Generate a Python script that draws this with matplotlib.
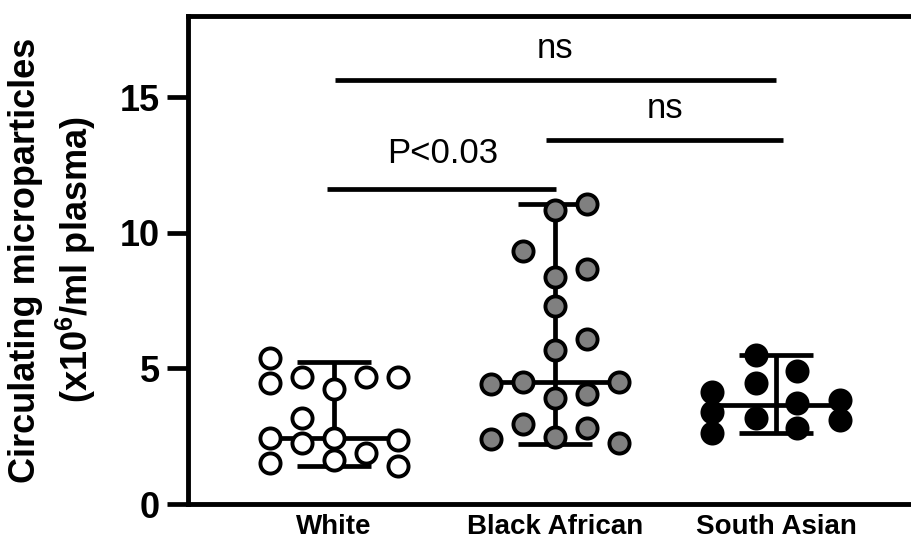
import matplotlib
matplotlib.use("Agg")
import matplotlib.pyplot as plt

plt.rcParams['font.family'] = ['Liberation Sans', 'DejaVu Sans']
plt.rcParams['mathtext.fontset'] = 'custom'
plt.rcParams['mathtext.rm'] = 'Liberation Sans'
plt.rcParams['mathtext.bf'] = 'Liberation Sans:bold'

# groups
groups = ['White', 'Black African', 'South Asian']
fills = ['white', 'grey', 'black']

# values (x10^6/ml plasma)
white_vals = [5.37, 4.45, 4.69, 4.26, 4.69, 4.69, 3.16, 2.42, 2.26, 2.42, 2.36, 1.52, 1.62, 1.89, 1.40]
white_offs = [-0.29, -0.29, -0.145, 0, 0.145, 0.29, -0.145, -0.29, -0.145, 0, 0.29, -0.29, 0, 0.145, 0.29]

black_vals = [10.84, 11.06, 9.33, 8.38, 8.65, 7.30, 6.08, 5.68, 4.42, 4.51, 4.51, 3.90, 4.04, 2.94, 2.79, 2.38, 2.48, 2.24]
black_offs = [0, 0.145, -0.145, 0, 0.145, 0, 0.145, 0, -0.29, -0.145, 0.29, 0, 0.145, -0.145, 0.145, -0.29, 0, 0.29]

asian_vals = [5.49, 4.91, 4.14, 4.45, 3.40, 3.73, 3.83, 3.19, 2.63, 2.79, 3.10]
asian_offs = [-0.09, 0.095, -0.29, -0.09, -0.29, 0.095, 0.29, -0.09, -0.29, 0.095, 0.29]

# median and range bars
medians = [2.44, 4.51, 3.65]
lows = [1.40, 2.20, 2.63]
highs = [5.25, 11.05, 5.49]

# comparisons: (x1, x2, line y, label, label x, label y)
comparisons = [
    (-0.03, 1.005, 11.61, 'P<0.03', 0.49, 12.94),
    (0.96, 2.03, 13.42, 'ns', 1.50, 14.60),
    (0.005, 2.0, 15.63, 'ns', 1.0, 16.80),
]

fig = plt.figure(figsize=(9.11, 5.47), dpi=100)
ax = fig.add_axes([188 / 911, 43 / 547, 1 - 188 / 911, 488 / 547])

all_vals = [white_vals, black_vals, asian_vals]
all_offs = [white_offs, black_offs, asian_offs]

for i in range(len(groups)):
    # median line and range whiskers
    ax.plot([i - 0.28, i + 0.28], [medians[i], medians[i]], color='black', lw=3.4, zorder=2, solid_capstyle='butt')
    ax.plot([i, i], [lows[i], highs[i]], color='black', lw=3.4, zorder=2, solid_capstyle='butt')
    for y in (lows[i], highs[i]):
        ax.plot([i - 0.167, i + 0.167], [y, y], color='black', lw=3.4, zorder=2, solid_capstyle='butt')
    xs = [i + o for o in all_offs[i]]
    ax.plot(xs, all_vals[i], 'o', ms=14.5, mfc=fills[i], mec='black', mew=2.8, zorder=3)

for x1, x2, y, txt, tx, ty in comparisons:
    ax.plot([x1, x2], [y, y], color='black', lw=3.4, solid_capstyle='butt', clip_on=False)
    ax.text(tx, ty, txt, ha='center', va='center', fontsize=25)

ax.set_xlim(-0.661, 2.611)
ax.set_ylim(0, 18)
ax.set_yticks([0, 5, 10, 15])
ax.set_xticks(range(len(groups)))
ax.set_xticklabels(groups, fontsize=20, fontweight='bold')
ax.tick_params(axis='x', length=0, pad=7)
ax.tick_params(axis='y', length=15, width=3.4, pad=5, labelsize=26)
for lab in ax.get_yticklabels():
    lab.set_fontweight('bold')

ax.spines['right'].set_visible(False)
for s in ['left', 'bottom', 'top']:
    ax.spines[s].set_linewidth(3.5)

ax.set_ylabel('Circulating microparticles\n(x10$^{\\mathbf{6}}$/ml plasma)', fontsize=26,
              fontweight='bold', labelpad=16, linespacing=1.3)

fig.savefig('out.png', dpi=100)
